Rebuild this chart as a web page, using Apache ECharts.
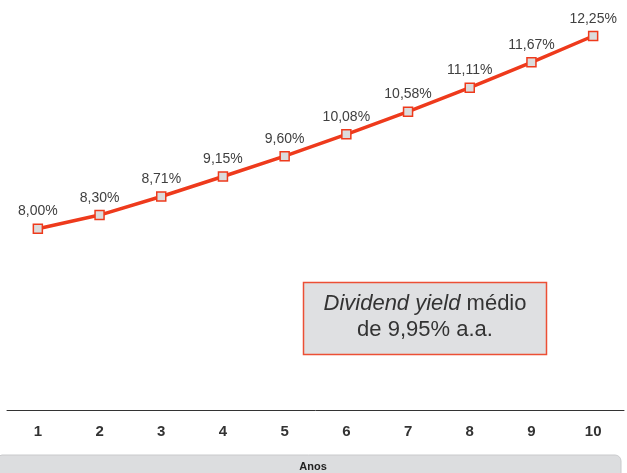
<!DOCTYPE html>
<html lang="pt">
<head>
    <meta charset="UTF-8">
    <title>Dividend yield</title>
    <script src="https://cdn.jsdelivr.net/npm/echarts@6.0.0/dist/echarts.min.js"></script>
    <style>
        body { margin: 0; background: #fff; }
    </style>
</head>
<body>
    <div id="main" style="width: 627px;height:473px;"></div>
    <script type="text/javascript">
        // anos e dividend yield (%)
        const anos = ['1', '2', '3', '4', '5', '6', '7', '8', '9', '10'];
        const yieldValues = [8.00, 8.30, 8.71, 9.15, 9.60, 10.08, 10.58, 11.11, 11.67, 12.25];
        const axisTitle = 'Anos';
        const noteLine1 = 'Dividend yield';
        const noteLine1b = ' médio';
        const noteLine2 = 'de 9,95% a.a.';

        const red = '#ee3a1c';

        let options = {
            animation: false,
            grid: { left: 7, right: 3, top: 2, bottom: 63 },
            xAxis: {
                type: 'category',
                data: anos,
                boundaryGap: true,
                axisLine: { lineStyle: { color: '#333', width: 1 } },
                axisTick: { show: false },
                axisLabel: {
                    color: '#333',
                    fontWeight: 'bold',
                    fontSize: 15,
                    fontFamily: 'Liberation Sans',
                    margin: 14
                }
            },
            yAxis: {
                type: 'value',
                min: 4,
                max: 13,
                show: false
            },
            series: [{
                type: 'line',
                data: yieldValues,
                symbol: 'rect',
                symbolSize: 9,
                lineStyle: { color: red, width: 3.5 },
                itemStyle: { color: '#dcdcdc', borderColor: red, borderWidth: 1.5 },
                label: {
                    show: true,
                    position: 'top',
                    distance: 5,
                    color: '#404040',
                    fontSize: 14,
                    fontFamily: 'Liberation Sans',
                    formatter: p => p.value.toFixed(2).replace('.', ',') + '%'
                },
                z: 3
            }],
            graphic: [
                {
                    type: 'rect',
                    shape: { x: -2, y: 455, width: 623, height: 30, r: [4, 6, 0, 0] },
                    style: { fill: '#dcdddf', stroke: '#c9cacc', lineWidth: 1 }
                },
                {
                    type: 'text',
                    x: 313, y: 467,
                    style: {
                        text: axisTitle,
                        fill: '#222',
                        font: 'bold 11px "Liberation Sans"',
                        align: 'center',
                        verticalAlign: 'middle'
                    }
                },
                {
                    type: 'rect',
                    shape: { x: 303.5, y: 282.5, width: 243, height: 72 },
                    style: { fill: '#dfe0e2', stroke: '#ec4f35', lineWidth: 1.5 }
                },
                {
                    type: 'text',
                    x: 425, y: 304,
                    style: {
                        text: '{i|' + noteLine1 + '}{n|' + noteLine1b + '}',
                        align: 'center',
                        verticalAlign: 'middle',
                        rich: {
                            i: { font: 'italic 22px "Liberation Sans"', fill: '#333' },
                            n: { font: '22px "Liberation Sans"', fill: '#333' }
                        }
                    }
                },
                {
                    type: 'text',
                    x: 425, y: 330,
                    style: {
                        text: noteLine2,
                        fill: '#333',
                        font: '22px "Liberation Sans"',
                        align: 'center',
                        verticalAlign: 'middle'
                    }
                }
            ]
        };

        let myChart = echarts.init(document.getElementById('main'));
        myChart.setOption(options);
    </script>
</body>
</html>
